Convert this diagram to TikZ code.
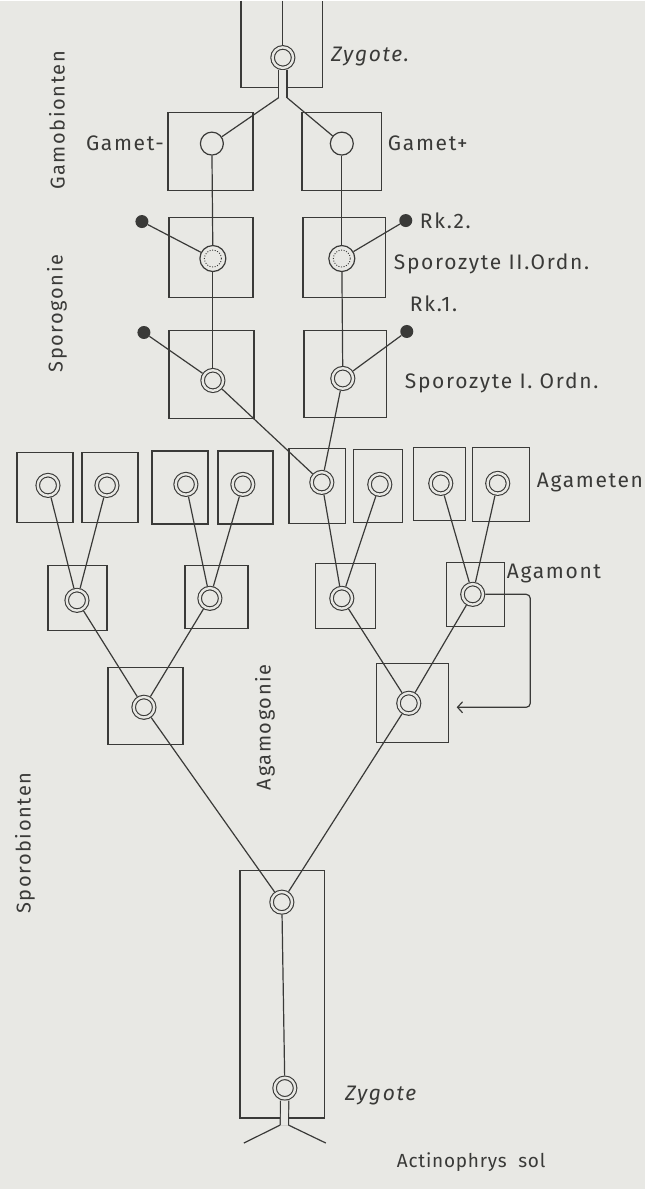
\documentclass[tikz,border=0pt]{standalone}
\usepackage{fontspec}
\setmainfont{Fira Sans}[LetterSpace=8]
\newfontfamily\captfont{Fira Sans}[LetterSpace=4]
\usetikzlibrary{arrows.meta}

\definecolor{paper}{HTML}{E8E8E4}
\definecolor{ink}{HTML}{3A3A38}

\begin{document}
\begin{tikzpicture}[
  x=1pt,
  y=-1pt,
  cell/.style 2 args={
    draw=ink,
    line width=1.35pt,
    inner sep=0pt,
    minimum width=#1,
    minimum height=#2
  },
  nucl/.style={circle, draw=ink, line width=1.1pt, double=paper, double distance=2.4pt,
    fill=paper, minimum size=20.5pt, inner sep=0pt, outer sep=2.3pt},
  gam/.style={circle, draw=ink, line width=1.2pt, fill=paper, minimum size=23pt, inner sep=0pt},
  meio/.style={circle, draw=ink, line width=1.2pt, fill=paper, minimum size=26pt, inner sep=0pt,
    path picture={\draw[ink, line width=0.9pt, dash pattern=on 1pt off 1.6pt]
      (path picture bounding box.center) circle (8.5pt);}},
  polk/.style={circle, fill=ink, minimum size=13pt, inner sep=0pt},
  link/.style={draw=ink, line width=1.2pt},
  lbl/.style={font=\fontsize{21}{24}\selectfont, text=ink, inner sep=0pt, anchor=west},
  side/.style={lbl, font=\fontsize{20}{23}\selectfont, anchor=center, rotate=90},
  >={Straight Barb[length=5pt, width=11pt]}
]
\fill[paper] (0,0) rectangle (645,1189);

% Zygote oben
\draw[link, line width=1.35pt] (241,0) |- (323,87) -- (323,0);
\node[nucl] (zygA) at (283,57) {};
\coordinate (zygAin) at (283,0);
\coordinate (forkA) at (283,97);

\node[cell={85}{78}] (boxGm) at (210.5,151) {};
\node[cell={80}{78}] (boxGp) at (342,151) {};
\node[gam] (gm) at (212,143) {};
\node[gam] (gp) at (342,143) {};

\node[cell={84}{80}] (boxSIIl) at (211,257) {};
\node[cell={83}{80}] (boxSIIr) at (344.5,257) {};
\node[meio] (sIIl) at (213,258) {};
\node[meio] (sIIr) at (342,258) {};
\node[polk] (rk2l) at (142,221) {};
\node[polk] (rk2r) at (406,220) {};

\node[cell={85}{88}] (boxSIl) at (211.5,374) {};
\node[cell={83}{87}] (boxSIr) at (345.5,373.5) {};
\node[nucl] (sIl) at (213,380) {};
\node[nucl] (sIr) at (343,378) {};
\node[polk] (rk1l) at (144,332) {};
\node[polk] (rk1r) at (407,331) {};

% Agameten
\node[cell={56}{70}] (ag1) at (45,487) {};
\node[cell={56}{70}] (ag2) at (110,487) {};
\node[cell={56}{73}] (ag3) at (180,487) {};
\node[cell={55}{73}] (ag4) at (245.5,487) {};
\node[cell={57}{75}] (ag5) at (317.5,485.5) {};
\node[cell={49}{73}] (ag6) at (378.5,485.5) {};
\node[cell={52}{73}] (ag7) at (440,483.5) {};
\node[cell={57}{74}] (ag8) at (501.5,484) {};
\node[nucl] (agc1) at (48,485) {};
\node[nucl] (agc2) at (107,485) {};
\node[nucl] (agc3) at (186,484) {};
\node[nucl] (agc4) at (243,484) {};
\node[nucl] (agc5) at (322,482) {};
\node[nucl] (agc6) at (380,484) {};
\node[nucl] (agc7) at (441,483) {};
\node[nucl] (agc8) at (498,483) {};

% Agamonten
\node[cell={59}{65}] (am1) at (77.5,597.5) {};
\node[cell={63}{63}] (am2) at (216.5,596.5) {};
\node[cell={60}{65}] (am3) at (346,595.5) {};
\node[cell={58}{64}] (am4) at (476,594) {};
\node[nucl] (amc1) at (77,600) {};
\node[nucl] (amc2) at (210,598) {};
\node[nucl] (amc3) at (342,598) {};
\node[nucl] (amc4) at (473,594) {};

\node[cell={75}{77}] (go1) at (145.5,705.5) {};
\node[cell={72}{79}] (go2) at (413,702.5) {};
\node[nucl] (goc1) at (144,707) {};
\node[nucl] (goc2) at (409,703) {};
\coordinate (loopin) at (457,707);

% Zygote unten
\node[cell={85}{248}] (boxZ) at (282.5,994) {};
\node[nucl] (zygB) at (282,902) {};
\node[nucl] (zygC) at (285,1088) {};
\coordinate (forkB) at (284.5,1125);
\coordinate (legL) at (244,1143);
\coordinate (legR) at (326,1143);

\draw[link] (zygAin) -- (zygA);
\draw[link, double=paper, double distance=7pt] (zygA) -- (forkA);
\draw[link] ([xshift=-4.1pt]forkA) -- (gm);
\draw[link] ([xshift=4.1pt]forkA) -- (gp);

\draw[link] (gm) -- (sIIl);
\draw[link] (sIIl) -- (sIl);
\draw[link] (gp) -- (sIIr);
\draw[link] (sIIr) -- (sIr);
\draw[link] (rk2l) -- (sIIl);
\draw[link] (rk2r) -- (sIIr);
\draw[link] (rk1l) -- (sIl);
\draw[link] (rk1r) -- (sIr);
\draw[link] (sIl) -- (agc5);
\draw[link] (sIr) -- (agc5);

\draw[link] (agc1) -- (amc1);
\draw[link] (agc2) -- (amc1);
\draw[link] (agc3) -- (amc2);
\draw[link] (agc4) -- (amc2);
\draw[link] (agc5) -- (amc3);
\draw[link] (agc6) -- (amc3);
\draw[link] (agc7) -- (amc4);
\draw[link] (agc8) -- (amc4);

\draw[link] (amc1) -- (goc1);
\draw[link] (amc2) -- (goc1);
\draw[link] (amc3) -- (goc2);
\draw[link] (amc4) -- (goc2);
\draw[link, rounded corners=4pt, ->] (amc4.east) -- ++(45,0) |- (loopin);

\draw[link] (goc1) -- (zygB);
\draw[link] (goc2) -- (zygB);
\draw[link] (zygB) -- (zygC);
\draw[link, double=paper, double distance=7pt] (zygC) -- (forkB);
\draw[link] ([xshift=-4.1pt]forkB) -- (legL);
\draw[link] ([xshift=4.1pt]forkB) -- (legR);

% Beschriftung
\node[lbl, font=\fontsize{21}{24}\selectfont\itshape] (tZygA) at (331,56) {Zygote.};
\node[lbl, anchor=east] (tGm) at (164,143) {Gamet-};
\node[lbl] (tGp) at (388,143) {Gamet+};
\node[lbl] (tRk2) at (420,220) {Rk.2.};
\node[lbl] (tSII) at (394,263) {Sporozyte II.Ordn.};
\node[lbl] (tRk1) at (410,303) {Rk.1.};
\node[lbl] (tSI) at (405,382) {Sporozyte I. Ordn.};
\node[lbl] (tAg) at (537,482) {Agameten};
\node[lbl] (tAm) at (507,573) {Agamont};
\node[lbl, font=\fontsize{21}{24}\selectfont\itshape] (tZygB) at (345,1095) {Zygote};
\node[lbl, font=\fontsize{19}{22}\captfont] (tAct) at (397,1162) {Actinophrys\ \ sol};

\node[side] (tGamob) at (57,120) {Gamobionten};
\node[side] (tSporog) at (57,313) {Sporogonie};
\node[side] (tSporob) at (25,843) {Sporobionten};
\node[side] (tAgamog) at (265,727) {Agamogonie};
\end{tikzpicture}
\end{document}
